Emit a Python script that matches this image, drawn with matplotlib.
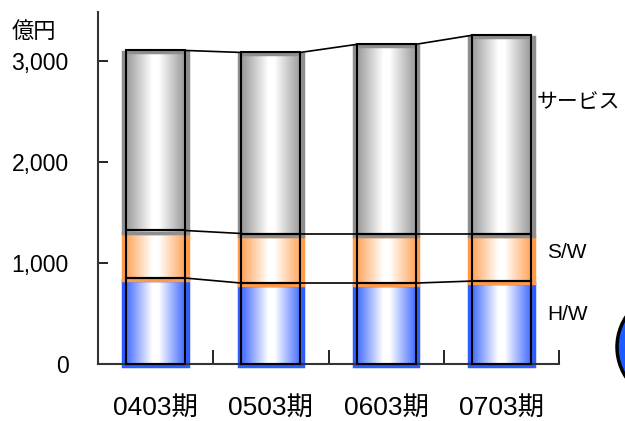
import numpy as np
import matplotlib
matplotlib.use('Agg')
import matplotlib.pyplot as plt
import matplotlib.transforms as mtransforms
from matplotlib.colors import LinearSegmentedColormap
from matplotlib.patches import Rectangle, Circle

plt.rcParams['font.family'] = ['Liberation Sans', 'Noto Sans CJK JP']

# データ (億円)
periods = ['0403期', '0503期', '0603期', '0703期']
hw = [850, 800, 800, 820]
sw = [470, 490, 490, 470]
service = [1780, 1790, 1870, 1960]
series_names = ['H/W', 'S/W', 'サービス']

# 色 (端の色, 中央は白)
EDGE = {'H/W': '#2f5cff', 'S/W': '#ff9a48', 'サービス': '#8e8e8e'}

fig = plt.figure(figsize=(6.25, 4.21), dpi=100, facecolor='white')
ax = fig.add_axes([98 / 625, 1 - 364 / 421, (559 - 98) / 625, (364 - 12) / 421])

x = np.arange(len(periods))
bar_w = 0.56
out_w = 0.51
shift = -20  # 色付きバーは少し下にずれて描かれている

stack = [hw, sw, service]
bottoms = np.zeros(len(periods))
tops_list = []
grad = np.linspace(0, 1, 128).reshape(1, -1)
for name, vals in zip(series_names, stack):
    vals = np.array(vals, dtype=float)
    cmap = LinearSegmentedColormap.from_list(
        name, [(0, EDGE[name]), (0.45, '#ffffff'), (0.55, '#ffffff'), (1, EDGE[name])])
    for xi, b, v in zip(x, bottoms, vals):
        ax.imshow(grad, cmap=cmap, aspect='auto', interpolation='bilinear',
                  extent=(xi - bar_w / 2, xi + bar_w / 2, b + shift, b + v + shift),
                  zorder=2, clip_on=False)
        ax.add_patch(Rectangle((xi - bar_w / 2, b + shift), bar_w, v, fill=False,
                               edgecolor=EDGE[name], lw=2.5, zorder=2.5, clip_on=False))
    ax.bar(x, vals, width=out_w, bottom=bottoms, fill=False,
           edgecolor='black', linewidth=1.5, zorder=3, clip_on=False)
    bottoms = bottoms + vals
    tops_list.append(bottoms.copy())

# 系列間の接続線
for tops in tops_list:
    for i in range(len(periods) - 1):
        ax.plot([x[i] + out_w / 2, x[i + 1] - out_w / 2], [tops[i], tops[i + 1]],
                color='black', lw=1.2, zorder=3)

ax.set_xlim(-0.5, 3.5)
ax.set_ylim(0, 3480)

ax.set_yticks([0, 1000, 2000, 3000])
ax.set_yticklabels(['0', '1,000', '2,000', '3,000'])
ax.tick_params(axis='y', direction='in', length=7, width=1.2, pad=21, labelsize=16.5)

ax.set_xticks([0.5, 1.5, 2.5, 3.5])
ax.set_xticklabels([])
ax.tick_params(axis='x', which='major', direction='in', length=10, width=1.2)
ax.set_xticks(x, minor=True)
ax.set_xticklabels(periods, minor=True)
ax.tick_params(axis='x', which='minor', length=0, pad=23, labelsize=19)

for s in ['top', 'right']:
    ax.spines[s].set_visible(False)
for s in ['left', 'bottom']:
    ax.spines[s].set_color('#333333')
    ax.spines[s].set_linewidth(1.5)

# 単位ラベルと系列ラベル
fig.text(12 / 625, 1 - 32 / 421, '億円', fontsize=16, va='center', ha='left')
label_y = [494, 1105, 2586]
label_x = [547, 547, 537]
trans = mtransforms.blended_transform_factory(fig.transFigure, ax.transData)
for name, yv, xp in zip(series_names, label_y, label_x):
    ax.text(xp / 625, yv, name, transform=trans, fontsize=15, va='center', ha='left')

# 右下の青い円 (一部のみ表示)
fig.patches.append(Circle((6.72, (421 - 347) / 100), 0.55, transform=fig.dpi_scale_trans,
                          facecolor='#1a5cff', edgecolor='black', lw=2.5))

fig.savefig('out.png', dpi=100, facecolor='white')
